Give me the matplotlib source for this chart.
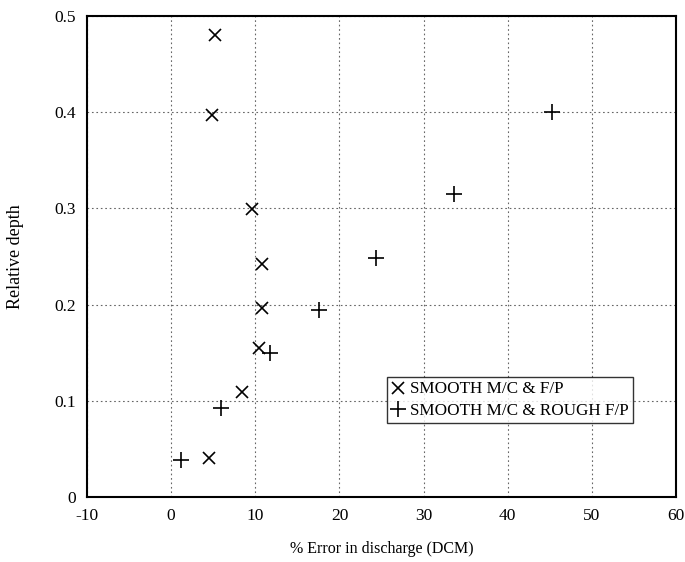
import matplotlib
matplotlib.use("Agg")
import matplotlib.pyplot as plt

# Data
smooth_x = [5.2, 4.9, 9.6, 10.8, 10.8, 10.4, 8.4, 4.5]
smooth_y = [0.480, 0.397, 0.299, 0.242, 0.196, 0.155, 0.109, 0.040]
rough_x = [1.2, 5.9, 11.8, 17.6, 24.4, 33.6, 45.2]
rough_y = [0.038, 0.092, 0.150, 0.194, 0.248, 0.315, 0.400]
x_ticks = [-10, 0, 10, 20, 30, 40, 50, 60]
x_tick_labels = ["-10", "0", "10", "20", "30", "40", "50", "60"]
y_ticks = [0, 0.1, 0.2, 0.3, 0.4, 0.5]
y_tick_labels = ["0", "0.1", "0.2", "0.3", "0.4", "0.5"]

plt.rcParams['font.family'] = ['Liberation Serif', 'DejaVu Serif']
plt.rcParams['axes.unicode_minus'] = False

fig = plt.figure(figsize=(6.85, 5.62), dpi=100)
ax = fig.add_axes([0.127, 0.1157, 0.86, 0.856])

ax.plot(smooth_x, smooth_y, linestyle='none', marker='x', color='black',
        markersize=9, markeredgewidth=1.2, label='SMOOTH M/C & F/P')
ax.plot(rough_x, rough_y, linestyle='none', marker='+', color='black',
        markersize=11, markeredgewidth=1.2, label='SMOOTH M/C & ROUGH F/P')

ax.set_xlim(-10, 60)
ax.set_ylim(0, 0.5)
ax.set_xticks(x_ticks)
ax.set_xticklabels(x_tick_labels)
ax.set_yticks(y_ticks)
ax.set_yticklabels(y_tick_labels)
ax.tick_params(length=0, labelsize=12.5, pad=8)
ax.grid(True, linestyle=(0, (1.5, 2.5)), color='#666666', linewidth=0.8)
for s in ax.spines.values():
    s.set_linewidth(1.5)

ax.set_xlabel('% Error in discharge (DCM)', fontsize=11.5, labelpad=12)
ax.set_ylabel('Relative depth', fontsize=13, labelpad=22)

leg = ax.legend(loc='lower left', bbox_to_anchor=(0.509, 0.154), fontsize=12.3,
                frameon=True, fancybox=False, borderpad=0.25, handlelength=0.8,
                handletextpad=0.3, labelspacing=0.3, borderaxespad=0)
leg.get_frame().set_edgecolor('black')
leg.get_frame().set_linewidth(1.0)

fig.savefig('out.png', dpi=100)
